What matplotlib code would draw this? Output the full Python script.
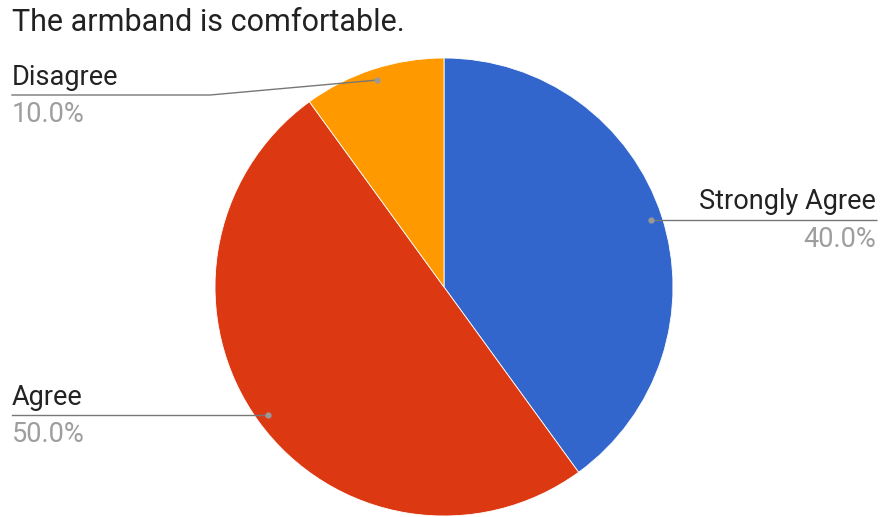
import matplotlib
matplotlib.use("Agg")
import matplotlib.pyplot as plt
import numpy as np

plt.rcParams['font.family'] = ['Roboto', 'DejaVu Sans']

title = "The armband is comfortable."
categories = ["Strongly Agree", "Agree", "Disagree"]
values = [40.0, 50.0, 10.0]
colors = ["#3366CC", "#DC3912", "#FF9900"]

W, H = 881, 517
fig = plt.figure(figsize=(W / 100, H / 100), dpi=100)
ax = fig.add_axes([0, 0, 1, 1])

cx, cy, r = 444, H - 287, 229
wedges, _ = ax.pie(values, colors=colors, startangle=90, counterclock=False,
                   center=(cx, cy), radius=r,
                   wedgeprops=dict(edgecolor="white", linewidth=0.6))
ax.set_xlim(0, W)
ax.set_ylim(0, H)
ax.set_aspect('auto')
ax.axis('off')

fig.text(12 / W, 1 - 31 / H, title, fontsize=22, color="#222222",
         ha="left", va="baseline")

total = sum(values)
line_col = "#777777"
dot_col = "#999999"
fs = 19.5
for w, cat, v in zip(wedges, categories, values):
    mid = np.deg2rad((w.theta1 + w.theta2) / 2)
    px = cx + 0.95 * r * np.cos(mid)
    py = cy + 0.95 * r * np.sin(mid)
    pct = f"{100 * v / total:.1f}%"
    if np.cos(mid) > 0:
        ly = py
        ax.plot([px, 877], [ly, ly], color=line_col, lw=1, solid_capstyle="butt")
        ax.plot([px], [py], "o", ms=3.5, color=dot_col)
        ax.text(876, ly + 11, cat, fontsize=fs, color="#222222", ha="right", va="baseline")
        ax.text(876, ly - 27, pct, fontsize=fs, color="#9E9E9E", ha="right", va="baseline")
    else:
        if py > cy:
            ly = H - 95
            ax.plot([12, 210, px], [ly, ly, py], color=line_col, lw=1)
        else:
            ly = py
            ax.plot([12, px], [ly, py], color=line_col, lw=1)
        ax.plot([px], [py], "o", ms=3.5, color=dot_col)
        ax.text(12, ly + 10, cat, fontsize=fs, color="#222222", ha="left", va="baseline")
        ax.text(12, ly - 27, pct, fontsize=fs, color="#9E9E9E", ha="left", va="baseline")

fig.savefig("out.png", dpi=100, facecolor="white")
